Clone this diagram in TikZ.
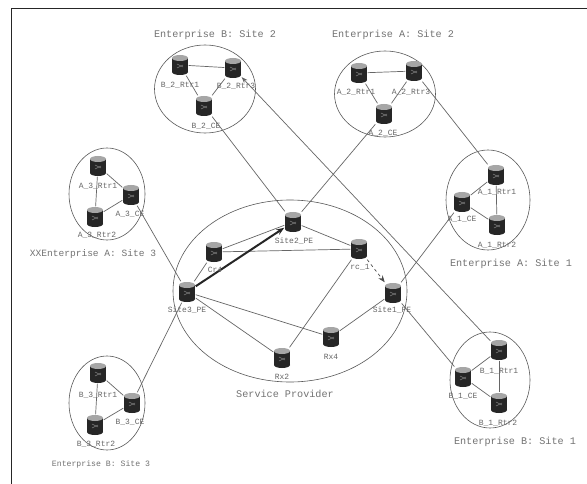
\documentclass[tikz,border=0pt]{standalone}
\usepackage{fontspec}
\setmainfont{Liberation Mono}
\usetikzlibrary{arrows.meta,shapes.geometric}
\tikzset{
  router/.style={rectangle,minimum width=17bp,minimum height=21bp,inner sep=0pt,
    path picture={
      \fill[black!85] (-8,-7) rectangle (8,7);
      \fill[black!85] (0,7) ellipse [x radius=8,y radius=3];
      \fill[black!35] (0,-7) ellipse [x radius=8,y radius=3];
      \draw[black!50,line width=0.5pt] (-3,-1) -- (3,2) (-3,3) -- (3,0);
    }},
  lbl/.style={font=\fontsize{8}{9}\selectfont,text=black!60,inner sep=0pt},
  captext/.style={font=\fontsize{10.2}{11}\selectfont,text=black!55,inner sep=0pt},
  site/.style={ellipse,draw=black!65,line width=0.6pt,inner sep=0pt},
  lnk/.style={draw=black!60,line width=0.7pt},
  frameline/.style={draw=black!85,line width=1.2pt}
}
\begin{document}
\begin{tikzpicture}[x=1bp,y=-1bp]
\useasboundingbox (0,0) rectangle (587,484);
\fill[white] (0,0) rectangle (587,484);
\coordinate (fa) at (11.5,484);
\coordinate (fb) at (11.5,8.5);
\coordinate (fc) at (587,8.5);
\draw[frameline] (fa) -- (fb) -- (fc);
% site ellipses
\node[site,minimum width=101bp,minimum height=88bp] (eB2) at (205,89) {};
\node[site,minimum width=101bp,minimum height=86bp] (eA2) at (385,94) {};
\node[site,minimum width=76bp,minimum height=92bp] (eA3) at (107,194) {};
\node[site,minimum width=76bp,minimum height=94bp] (eB3) at (107,403) {};
\node[site,minimum width=84bp,minimum height=100bp] (eA1) at (488,200) {};
\node[site,minimum width=80bp,minimum height=96bp] (eB1) at (490,380) {};
\node[site,minimum width=234bp,minimum height=182bp] (eSP) at (290,291) {};
% routers
\node[router] (B2R1) at (180,65) {};
\node[router] (B2R3) at (233,68) {};
\node[router] (B2CE) at (204,106) {};
\node[router] (A2R1) at (359,73) {};
\node[router] (A2R3) at (414,71) {};
\node[router] (A2CE) at (384,114) {};
\node[router] (A3R1) at (98,166) {};
\node[router] (A3CE) at (131,195) {};
\node[router] (A3R2) at (95,217) {};
\node[router] (B3R1) at (98,373) {};
\node[router] (B3CE) at (132,403) {};
\node[router] (B3R2) at (95,425) {};
\node[router] (A1R1) at (496,175) {};
\node[router] (A1CE) at (462,202) {};
\node[router] (A1R2) at (497,225) {};
\node[router] (B1R1) at (499,350) {};
\node[router] (B1CE) at (463,377) {};
\node[router] (B1R2) at (499,403) {};
\node[router] (S2) at (293,222) {};
\node[router] (Cr) at (214,252) {};
\node[router] (S3) at (187,292) {};
\node[router] (Rc) at (359,249) {};
\node[router] (S1) at (393,293) {};
\node[router] (R4) at (331,337) {};
\node[router] (R2) at (282,358) {};
% connectors
\draw[lnk] (B2R1) -- (B2R3);
\draw[lnk] (B2R1) -- (B2CE);
\draw[lnk] (B2R3) -- (B2CE);
\draw[lnk] (A2R1) -- (A2R3);
\draw[lnk] (A2R1) -- (A2CE);
\draw[lnk] (A2R3) -- (A2CE);
\draw[lnk] (A3R1) -- (A3R2);
\draw[lnk] (A3R1) -- (A3CE);
\draw[lnk] (A3R2) -- (A3CE);
\draw[lnk] (B3R1) -- (B3R2);
\draw[lnk] (B3R1) -- (B3CE);
\draw[lnk] (B3R2) -- (B3CE);
\draw[lnk] (A1R1) -- (A1R2);
\draw[lnk] (A1R1) -- (A1CE);
\draw[lnk] (A1R2) -- (A1CE);
\draw[lnk] (B1R1) -- (B1R2);
\draw[lnk] (B1R1) -- (B1CE);
\draw[lnk] (B1R2) -- (B1CE);
\draw[lnk] (B2CE) -- (S2);
\draw[lnk] (A2CE) -- (S2);
\draw[lnk] (A2R3) -- (A1R1);
\draw[lnk,-{Stealth[length=6bp]}] (B1R1) -- (B2R3);
\draw[lnk] (A3CE) -- (S3);
\draw[lnk] (B3CE) -- (S3);
\draw[lnk] (A1CE) -- (S1);
\draw[lnk] (B1CE) -- (S1);
\draw[lnk] (Cr) -- (S2);
\draw[lnk] (Cr) -- (Rc);
\draw[lnk] (Cr) -- (S3);
\draw[lnk] (S2) -- (Rc);
\draw[lnk] (Rc) -- (R2);
\draw[lnk] (S3) -- (R2);
\draw[lnk] (S3) -- (R4);
\draw[lnk] (R4) -- (S1);
\draw[draw=black!70,line width=0.7pt,dashed,-{Stealth[length=7bp]}] (Rc) -- (S1);
\draw[draw=black!85,line width=2pt,-{Stealth[length=8bp]}] (S3) -- (S2);
% labels
\node[lbl] (lB2R1) at (180,85) {B\_2\_Rtr1};
\node[lbl] (lB2R3) at (236,86) {B\_2\_Rtr3};
\node[lbl] (lB2CE) at (206,126) {B\_2\_CE};
\node[lbl] (lA2R1) at (356,92) {A\_2\_Rtr1};
\node[lbl] (lA2R3) at (411,92) {A\_2\_Rtr3};
\node[lbl] (lA2CE) at (383,133) {A\_2\_CE};
\node[lbl] (lA3R1) at (98,186) {A\_3\_Rtr1};
\node[lbl] (lA3CE) at (130,214) {A\_3\_CE};
\node[lbl] (lA3R2) at (97,235) {A\_3\_Rtr2};
\node[lbl] (lB3R1) at (98,395) {B\_3\_Rtr1};
\node[lbl] (lB3CE) at (130,422) {B\_3\_CE};
\node[lbl] (lB3R2) at (96,444) {B\_3\_Rtr2};
\node[lbl] (lA1R1) at (497,192) {A\_1\_Rtr1};
\node[lbl] (lA1CE) at (462,219) {A\_1\_CE};
\node[lbl] (lA1R2) at (497,245) {A\_1\_Rtr2};
\node[lbl] (lB1R1) at (499,371) {B\_1\_Rtr1};
\node[lbl] (lB1CE) at (463,396) {B\_1\_CE};
\node[lbl] (lB1R2) at (498,423) {B\_1\_Rtr2};
\node[lbl] (lS2) at (294,241) {Site2\_PE};
\node[lbl] (lCr) at (215,270) {Cr4};
\node[lbl] (lS3) at (187,310) {Site3\_PE};
\node[lbl] (lRc) at (360,267) {rc\_1};
\node[lbl] (lS1) at (392,310) {Site1\_PE};
\node[lbl] (lR4) at (331,357) {Rx4};
\node[lbl] (lR2) at (282,377) {Rx2};
% captions
\node[captext] (cB2) at (215,35) {Enterprise B: Site 2};
\node[captext] (cA2) at (393,35) {Enterprise A: Site 2};
\node[captext,font=\fontsize{9.6}{10}\selectfont] (cA3) at (93,254) {XXEnterprise A: Site 3};
\node[captext,font=\fontsize{8.2}{9}\selectfont] (cB3) at (101,464) {Enterprise B: Site 3};
\node[captext] (cA1) at (511,264) {Enterprise A: Site 1};
\node[captext] (cB1) at (515,442) {Enterprise B: Site 1};
\node[captext] (cSP) at (285,394) {Service Provider};
\end{tikzpicture}
\end{document}
